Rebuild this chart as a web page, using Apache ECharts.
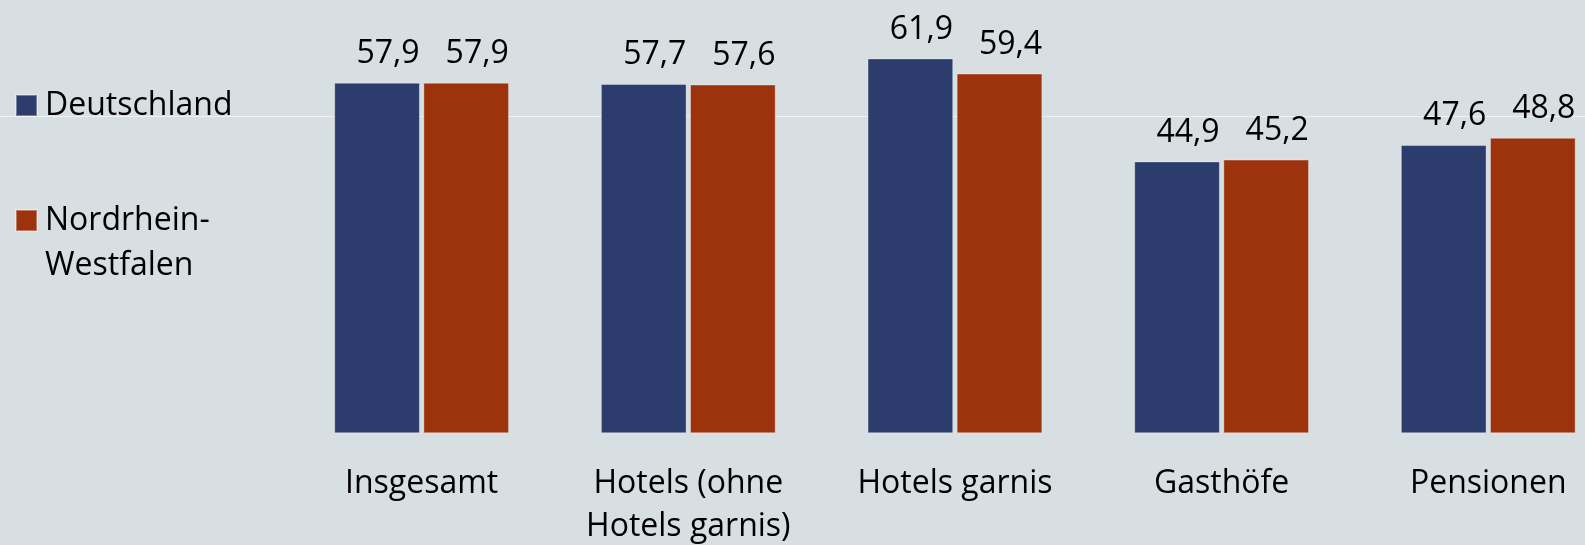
<!DOCTYPE html>
<html>
<head>
<meta charset="utf-8">
<script src="https://cdn.jsdelivr.net/npm/echarts@6/dist/echarts.min.js"></script>
<style>
html,body{margin:0;padding:0;background:#d7dfe2;}
#chart{width:1585px;height:545px;}
</style>
</head>
<body>
<div id="chart"></div>
<script>
const categories = ['Insgesamt', 'Hotels (ohne\nHotels garnis)', 'Hotels garnis', 'Gasthöfe', 'Pensionen'];
const deutschland = [57.9, 57.7, 61.9, 44.9, 47.6];
const nrw = [57.9, 57.6, 59.4, 45.2, 48.8];
const seriesNames = ['Deutschland', 'Nordrhein-Westfalen'];

const FONT = '"Open Sans", sans-serif';
const chart = echarts.init(document.getElementById('chart'));

const labelCfg = {
  show: true,
  position: 'top',
  distance: 13,
  offset: [11, 0],
  fontFamily: FONT,
  fontSize: 32,
  color: '#000',
  formatter: p => p.value.toFixed(1).replace('.', ',')
};

chart.setOption({
  backgroundColor: '#d7dfe2',
  animation: false,
  graphic: [{
    type: 'line',
    z: 0,
    shape: { x1: 0, y1: 116.5, x2: 1585, y2: 116.5 },
    style: { stroke: '#eef2f4', lineWidth: 1 }
  }],
  legend: [{
    data: [seriesNames[0]],
    left: 15, top: 83,
    padding: 0,
    itemWidth: 21, itemHeight: 21,
    icon: 'rect',
    textStyle: { fontFamily: FONT, fontSize: 32, color: '#000', lineHeight: 45, padding: [0, 0, 0, 3] }
  }, {
    data: [seriesNames[1]],
    left: 15, top: 153,
    padding: 0,
    itemWidth: 21, itemHeight: 21,
    icon: 'rect',
    formatter: () => ' \nNordrhein-\nWestfalen',
    textStyle: { fontFamily: FONT, fontSize: 32, color: '#000', lineHeight: 45, padding: [0, 0, 0, 3] }
  }],
  grid: { left: 288.3, top: 9.4, width: 1333.3, height: 423.9, containLabel: false, outerBoundsMode: 'none' },
  xAxis: {
    type: 'category',
    data: categories,
    axisLine: { show: false },
    axisTick: { show: false },
    axisLabel: {
      margin: 29,
      fontFamily: FONT,
      fontSize: 32,
      lineHeight: 43,
      color: '#000',
      interval: 0
    }
  },
  yAxis: {
    type: 'value',
    min: 0, max: 70,
    show: false,
    splitLine: { show: false }
  },
  series: [{
    name: seriesNames[0],
    type: 'bar',
    data: deutschland,
    barWidth: 85.7,
    barGap: '4%',
    itemStyle: { color: '#2c3c6c', borderColor: 'rgba(255,255,255,0.35)', borderWidth: 1 },
    label: labelCfg
  }, {
    name: seriesNames[1],
    type: 'bar',
    data: nrw,
    barWidth: 85.7,
    barGap: '4%',
    itemStyle: { color: '#9c330c', borderColor: 'rgba(255,255,255,0.35)', borderWidth: 1 },
    label: labelCfg
  }]
});
</script>
</body>
</html>
